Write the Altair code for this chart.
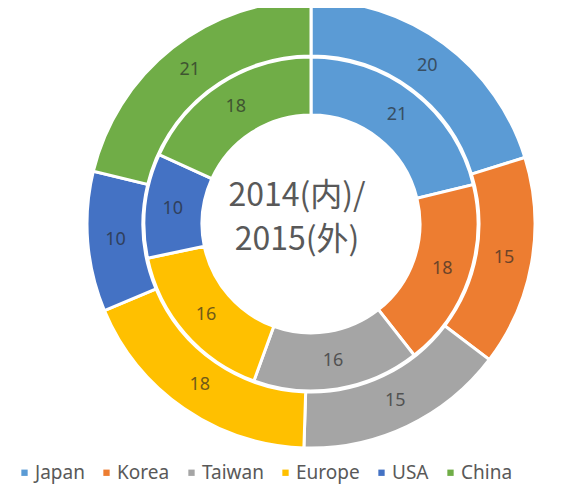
import altair as alt
import pandas as pd

regions = ["Japan", "Korea", "Taiwan", "Europe", "USA", "China"]
share_2014 = [21, 18, 16, 16, 10, 18]  # inner ring
share_2015 = [20, 15, 15, 18, 10, 21]  # outer ring
colors = ["#5B9BD5", "#ED7D31", "#A5A5A5", "#FFC000", "#4472C4", "#70AD47"]
center_lines = ["2014(内)/", "2015(外)"]

df = pd.DataFrame({
    "region": regions * 2,
    "year": ["2014"] * 6 + ["2015"] * 6,
    "value": share_2014 + share_2015,
    "idx": list(range(6)) * 2,
})

cx, cy = 303, 216

base = alt.Chart(df).encode(
    theta=alt.Theta("value:Q", stack=True),
    order=alt.Order("idx:O"),
    x=alt.value(cx),
    y=alt.value(cy),
)

color = alt.Color(
    "region:N",
    scale=alt.Scale(domain=regions, range=colors),
    sort=regions,
    title=None,
    legend=alt.Legend(
        orient="none", direction="horizontal", columns=6,
        legendX=7, legendY=455, padding=0,
        symbolType="square", symbolSize=40, symbolStrokeWidth=0,
        labelFontSize=19, labelColor="#595959", labelFont="Noto Sans",
        labelOffset=1, columnPadding=12,
    ),
)

inner = base.transform_filter("datum.year == '2014'")
outer = base.transform_filter("datum.year == '2015'")

inner_arc = inner.mark_arc(radius=167, radius2=109, stroke="white", strokeWidth=3).encode(color=color)
outer_arc = outer.mark_arc(radius=224, radius2=168, stroke="white", strokeWidth=3).encode(color=color)

label_style = dict(fontSize=18, font="Noto Sans", fill="#262626", opacity=0.65)
inner_txt = inner.mark_text(radius=139, **label_style).encode(text="value:Q")
outer_txt = outer.mark_text(radius=196, **label_style).encode(text="value:Q")

center = alt.Chart(pd.DataFrame({"t": center_lines, "row": [0, 1]})).mark_text(
    fontSize=32, font="Noto Sans CJK SC", color="#595959"
).encode(
    text="t:N",
    x=alt.value(289),
    y=alt.Y("row:Q", scale=alt.Scale(domain=[0, 1], range=[188, 232]), axis=None),
)

chart = alt.layer(inner_arc, outer_arc, inner_txt, outer_txt, center).properties(
    width=554, height=476, padding=0, autosize="none"
).configure_view(stroke=None)

chart.save("out.html", embed_options={"renderer": "svg", "actions": False})
